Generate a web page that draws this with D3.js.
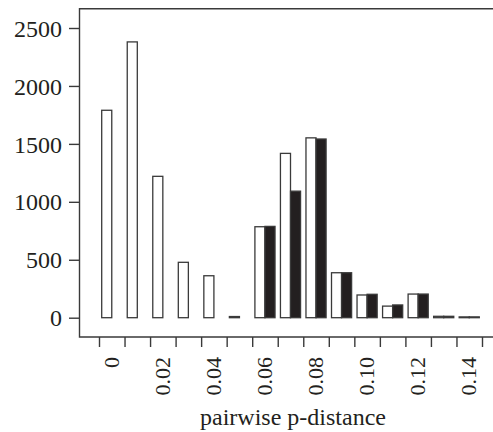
<!DOCTYPE html>
<html lang="en">
<head>
<meta charset="utf-8">
<title>pairwise p-distance</title>
<script src="https://cdn.jsdelivr.net/npm/d3@7"></script>
<style>
  body { margin: 0; background: #fff; }
  svg { display: block; font-family: "Liberation Serif", "Times New Roman", serif; }
  .frame { stroke: #3a3a3a; stroke-width: 1.4px; fill: none; }
  .axis path { display: none; }
  .axis line { stroke: #3a3a3a; stroke-width: 1.4px; }
  .axis text { font-family: "Liberation Serif", serif; font-size: 24px; fill: #231f20; }
</style>
</head>
<body>
<div id="chart"></div>
<script>
var width = 493,
    height = 432;

// bins of pairwise p-distance
var bins = ["0", "0.01", "0.02", "0.03", "0.04", "0.05", "0.06", "0.07",
            "0.08", "0.09", "0.10", "0.11", "0.12", "0.13", "0.14"];
var labelled = ["0", "0.02", "0.04", "0.06", "0.08", "0.10", "0.12", "0.14"];
var series = ["open", "filled"];
var openCounts   = [1790, 2380, 1220, 478, 362, 10, 785, 1418, 1552, 388, 196, 100, 204, 12, 7];
var filledCounts = [0, 0, 0, 0, 0, 0, 788, 1092, 1542, 388, 202, 110, 204, 12, 7];
var yTicks = [0, 500, 1000, 1500, 2000, 2500];

var svg = d3.select("#chart")
    .append("svg")
    .attr("width", width)
    .attr("height", height);

var box = { left: 79.5, top: 8.7, bottom: 337, right: 500 };

var y = d3.scaleLinear()
    .domain([0, 2500])
    .range([317.7, 28]);

var x = d3.scaleBand()
    .domain(bins)
    .range([99, 482])
    .padding(0);

var xEdge = d3.scaleLinear()
    .domain([0, bins.length])
    .range([99, 482]);

var inner = d3.scaleBand()
    .domain(series)
    .range([x.bandwidth() * 0.106, x.bandwidth() * 0.894]);

// frame (right side runs off the picture)
svg.append("path")
    .attr("class", "frame")
    .attr("d", "M" + box.right + "," + box.top + "H" + box.left +
               "V" + box.bottom + "H" + box.right);

// y axis
svg.append("g")
    .attr("class", "axis")
    .attr("transform", "translate(" + box.left + ",0)")
    .call(d3.axisLeft(y).tickValues(yTicks).tickSize(10.5).tickPadding(7)
      .tickFormat(d3.format("d")))
    .selectAll("text").attr("dy", "0.34em");

// x axis: ticks at bin edges
svg.append("g")
    .attr("class", "axis")
    .attr("transform", "translate(0," + box.bottom + ")")
    .call(d3.axisBottom(xEdge).tickValues(d3.range(bins.length + 1)).tickSize(10).tickFormat(""));

// x labels at bin centres, rotated
svg.append("g")
    .selectAll("text")
    .data(labelled)
    .enter().append("text")
      .attr("transform", function(d) {
        return "translate(" + (x(d) + x.bandwidth() / 2 + 7) + ",357) rotate(-90)";
      })
      .attr("text-anchor", "end")
      .style("font-size", "22px")
      .style("fill", "#231f20")
      .text(function(d) { return d; });

// bars
var rows = bins.map(function(b, i) {
  return { bin: b, values: [
    { key: "open", value: openCounts[i] },
    { key: "filled", value: filledCounts[i] }
  ]};
});

var groups = svg.append("g")
    .selectAll("g")
    .data(rows)
    .enter().append("g")
      .attr("transform", function(d) { return "translate(" + x(d.bin) + ",0)"; });

groups.selectAll("rect")
    .data(function(d) { return d.values.filter(function(v) { return v.value > 0; }); })
    .enter().append("rect")
      .attr("x", function(d) { return inner(d.key); })
      .attr("width", inner.bandwidth())
      .attr("y", function(d) { return y(d.value); })
      .attr("height", function(d) { return y(0) - y(d.value); })
      .attr("fill", function(d) { return d.key === "open" ? "#fff" : "#231f20"; })
      .attr("stroke", "#3a3a3a")
      .attr("stroke-width", 1.3);

// axis title
svg.append("text")
    .attr("x", 293)
    .attr("y", 425)
    .attr("text-anchor", "middle")
    .style("font-size", "24px")
    .style("fill", "#231f20")
    .text("pairwise p-distance");
</script>
</body>
</html>
